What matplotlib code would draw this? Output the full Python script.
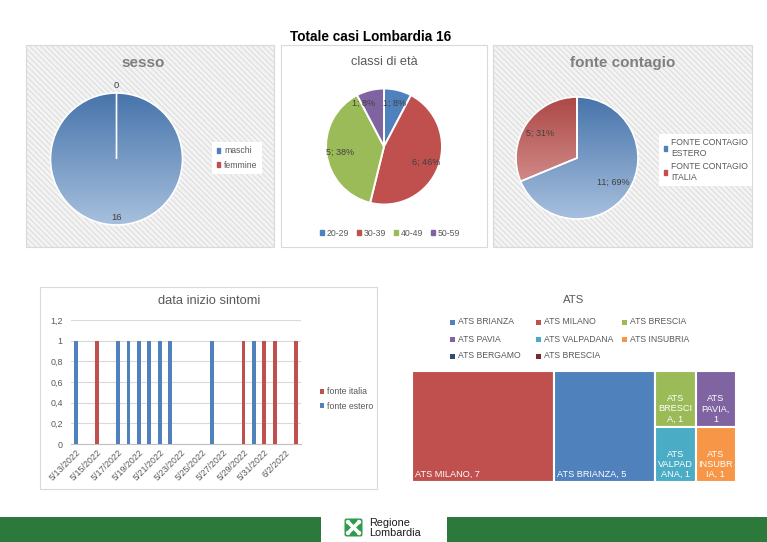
import numpy as np
import matplotlib
matplotlib.use('Agg')
import matplotlib.pyplot as plt
import matplotlib.colors as mcolors
from matplotlib.patches import Rectangle, FancyBboxPatch, Circle

plt.rcParams['font.family'] = ['Liberation Sans', 'DejaVu Sans']
plt.rcParams['hatch.linewidth'] = 0.6

# ---- data ----
chart_title = 'Totale casi Lombardia 16'

sex_labels = ['maschi', 'femmine']
sex_values = [16, 0]
sex_colors = ['#4F81BD', '#C0504D']

age_labels = ['20-29', '30-39', '40-49', '50-59']
age_values = [1, 6, 5, 1]
age_colors = ['#4F81BD', '#C0504D', '#9BBB59', '#8064A2']

source_labels = ['FONTE CONTAGIO\nESTERO', 'FONTE CONTAGIO\nITALIA']
source_values = [11, 5]
source_colors = ['#4F81BD', '#C0504D']

onset_dates = ['5/13/2022', '5/14/2022', '5/15/2022', '5/16/2022', '5/17/2022',
               '5/18/2022', '5/19/2022', '5/20/2022', '5/21/2022', '5/22/2022',
               '5/23/2022', '5/24/2022', '5/25/2022', '5/26/2022', '5/27/2022',
               '5/28/2022', '5/29/2022', '5/30/2022', '5/31/2022', '6/1/2022',
               '6/2/2022', '6/3/2022']
onset_estero = [1, 0, 0, 0, 1, 1, 1, 1, 1, 1, 0, 0, 0, 1, 0, 0, 0, 1, 0, 0, 0, 0]
onset_italia = [0, 0, 1, 0, 0, 0, 0, 0, 0, 0, 0, 0, 0, 0, 0, 0, 1, 0, 1, 1, 0, 1]
onset_yticks = [0, 0.2, 0.4, 0.6, 0.8, 1.0, 1.2]

ats_names = ['ATS BRIANZA', 'ATS MILANO', 'ATS BRESCIA', 'ATS PAVIA',
             'ATS VALPADANA', 'ATS INSUBRIA', 'ATS BERGAMO', 'ATS BRESCIA']
ats_values = [5, 7, 1, 1, 1, 1, 0, 0]
ats_colors = ['#4F81BD', '#C0504D', '#9BBB59', '#8064A2',
              '#4BACC6', '#F79646', '#2C4D75', '#772C2A']

# ---- layout helpers (pixel coords, origin top-left) ----
W, H = 767, 542
fig = plt.figure(figsize=(W / 100, H / 100), dpi=100)
fig.patch.set_facecolor('white')


def px_rect(x0, y0, x1, y1):
    return [x0 / W, 1 - y1 / H, (x1 - x0) / W, (y1 - y0) / H]


def px_pt(x, y):
    return (x / W, 1 - y / H)


bg = fig.add_axes([0, 0, 1, 1])
bg.set_xlim(0, W)
bg.set_ylim(H, 0)
bg.axis('off')

# panels
for (x0, y0, x1, y1, hatched) in [(26, 45, 274, 247, True), (281, 45, 487, 247, False),
                                  (493, 45, 752, 247, True), (40, 287, 377, 489, False)]:
    if hatched:
        bg.add_patch(Rectangle((x0, y0), x1 - x0, y1 - y0, facecolor='#f3f3f3',
                               edgecolor='#d8d8d8', hatch='\\' * 6, lw=0))
    bg.add_patch(Rectangle((x0, y0), x1 - x0, y1 - y0, facecolor='none',
                           edgecolor='#d9d9d9', lw=0.8))

bg.text(371, 37, chart_title, ha='center', va='center', fontsize=9.8,
        fontweight='bold', color='black')

# footer
green = '#2b7a3c'
bg.add_patch(Rectangle((0, 517), 321, 25, color=green, lw=0))
bg.add_patch(Rectangle((447, 517), 320, 25, color=green, lw=0))
bg.add_patch(FancyBboxPatch((345, 519), 17, 17, boxstyle='round,pad=0.5,rounding_size=2',
                            facecolor='#2f9a47', edgecolor='none'))
for (a, b, c, d) in [(348, 522, 359, 533), (359, 522, 348, 533)]:
    bg.plot([a, c], [b, d], color='white', lw=2.6, solid_capstyle='round')
for (cx, cy) in [(348, 522), (359, 522), (348, 533), (359, 533)]:
    bg.add_patch(Circle((cx, cy), 2.2, color='white', lw=0))
bg.text(369, 523, 'Regione', fontsize=7.8, color='#1a1a1a', va='center', ha='left')
bg.text(369, 533, 'Lombardia', fontsize=7.8, color='#1a1a1a', va='center', ha='left')


# ---- pie helpers ----
def pie_axes(cx, cy, r, pad=1.3):
    ax = fig.add_axes(px_rect(cx - r * pad, cy - r * pad, cx + r * pad, cy + r * pad))
    ax.axis('off')
    return ax


def finish_pie(ax, pad=1.3):
    ax.set_xlim(-pad, pad)
    ax.set_ylim(-pad, pad)
    ax.set_aspect('equal')


def gradient_fill(ax, wedges, colors):
    t = np.linspace(0, 1, 200)[:, None, None]
    for w, c in zip(wedges, colors):
        base = np.array(mcolors.to_rgb(c))
        top = base * 0.9
        bottom = base + (1 - base) * 0.5
        img = np.repeat(top * (1 - t) + bottom * t, 2, axis=1)
        im = ax.imshow(img, extent=(-1, 1, -1, 1), origin='upper', aspect='auto', zorder=0.5)
        im.set_clip_path(w)
        w.set_facecolor('none')


def pie_labels(ax, values, fmt, inner=0.75, outer=1.12, size=6.5, nudge=None):
    total = sum(values)
    cum = 0
    for k, v in enumerate(values):
        ang = np.deg2rad(90 - 360 * (cum + v / 2) / total)
        d = outer if v == 0 else inner
        dx = nudge[k] if nudge else 0
        ax.text(d * np.cos(ang) + dx, d * np.sin(ang), fmt(v, total), ha='center',
                va='center', fontsize=size, color='#404040')
        cum += v


def proxies(colors):
    return [Rectangle((0, 0), 1, 1, color=c) for c in colors]


# sesso
ax1 = pie_axes(116.5, 159, 66)
w1, _ = ax1.pie(sex_values, colors=sex_colors, startangle=90, counterclock=False,
                wedgeprops=dict(edgecolor='white', linewidth=1.2))
gradient_fill(ax1, w1, sex_colors)
pie_labels(ax1, sex_values, lambda v, t: f'{v}', inner=0.88, outer=1.11, size=6.8)
finish_pie(ax1)
bg.text(143, 63, 'sesso', ha='center', va='center', fontsize=11, fontweight='bold', color='#7f7f7f')
fig.legend(proxies(sex_colors), sex_labels, loc='center left', bbox_to_anchor=px_pt(208, 158),
           fontsize=6.2, frameon=True, facecolor='white', edgecolor='none', framealpha=1,
           fancybox=False, handlelength=0.45, handleheight=0.45, handletextpad=0.4,
           labelcolor='#595959', borderpad=0.5, labelspacing=0.6)

# classi di eta
ax2 = pie_axes(384, 146.5, 58)
ax2.pie(age_values, colors=age_colors, startangle=90, counterclock=False,
        wedgeprops=dict(edgecolor='white', linewidth=1.4))
pie_labels(ax2, age_values, lambda v, t: f'{v}; {round(100 * v / t)}%', inner=0.77,
           nudge=[0, 0, 0, -0.17])
finish_pie(ax2)
bg.text(384, 62, 'classi di età', ha='center', va='center', fontsize=9.2, color='#595959')
fig.legend(proxies(age_colors), age_labels, loc='center', bbox_to_anchor=px_pt(390, 233),
           ncol=4, fontsize=6.3, frameon=False, handlelength=0.45, handleheight=0.45,
           handletextpad=0.3, columnspacing=0.9, labelcolor='#595959')

# fonte contagio
ax3 = pie_axes(577, 158, 61)
w3, _ = ax3.pie(source_values, colors=source_colors, startangle=90, counterclock=False,
                wedgeprops=dict(edgecolor='white', linewidth=1.2))
gradient_fill(ax3, w3, source_colors)
pie_labels(ax3, source_values, lambda v, t: f'{v}; {round(100 * v / t)}%', inner=0.72)
finish_pie(ax3)
bg.text(623, 63, 'fonte contagio', ha='center', va='center', fontsize=11,
        fontweight='bold', color='#7f7f7f')
fig.legend(proxies(source_colors), source_labels, loc='center left',
           bbox_to_anchor=px_pt(655, 160), fontsize=6.2, frameon=True, facecolor='white',
           edgecolor='none', framealpha=1, fancybox=False, handlelength=0.45,
           handleheight=0.45, handletextpad=0.4, labelcolor='#595959', borderpad=0.5,
           labelspacing=0.5)

# ---- data inizio sintomi ----
ax4 = fig.add_axes(px_rect(71, 320, 301, 444))
x = np.arange(len(onset_dates))
ax4.bar(x, onset_estero, width=0.38, color='#4F81BD', zorder=3, label='fonte estero')
ax4.bar(x, onset_italia, width=0.38, bottom=onset_estero, color='#C0504D', zorder=3,
        label='fonte italia')
ax4.set_xlim(-0.5, len(onset_dates) - 0.5)
ax4.set_ylim(0, 1.2)
ax4.set_yticks(onset_yticks)
ax4.set_yticklabels([('%g' % v).replace('.', ',') for v in onset_yticks])
ax4.yaxis.grid(True, color='#d9d9d9', lw=0.8, zorder=0)
ax4.set_xticks(x[::2])
ax4.set_xticklabels(onset_dates[::2], rotation=45, ha='right', rotation_mode='anchor')
ax4.tick_params(axis='both', length=0, labelsize=6.4, labelcolor='#595959')
ax4.tick_params(axis='y', pad=6)
ax4.tick_params(axis='x', pad=3)
for s in ['top', 'right', 'left']:
    ax4.spines[s].set_visible(False)
ax4.spines['bottom'].set_color('#bfbfbf')
ax4.set_facecolor('none')
h4, l4 = ax4.get_legend_handles_labels()
fig.legend(h4[::-1], l4[::-1], loc='center left', bbox_to_anchor=px_pt(312, 399),
           fontsize=6.3, frameon=False, handlelength=0.45, handleheight=0.45,
           handletextpad=0.4, labelcolor='#595959', labelspacing=0.6)
bg.text(209, 301, 'data inizio sintomi', ha='center', va='center', fontsize=9.3, color='#595959')


# ---- ATS treemap ----
def squarify(values, x, y, w, h):
    total = sum(values)
    areas = [v * w * h / total for v in values]
    rects = []

    def worst(row, side):
        s = sum(row)
        return max(max(side * side * r / (s * s), s * s / (side * side * r)) for r in row)

    while areas:
        side = min(w, h)
        row = [areas[0]]
        i = 1
        while i < len(areas) and worst(row + [areas[i]], side) <= worst(row, side):
            row.append(areas[i])
            i += 1
        s = sum(row)
        if w >= h:
            cw = s / h
            yy = y
            for a in row:
                rects.append((x, yy, cw, a / cw))
                yy += a / cw
            x += cw
            w -= cw
        else:
            rh = s / w
            xx = x
            for a in row:
                rects.append((xx, y, a / rh, rh))
                xx += a / rh
            y += rh
            h -= rh
        areas = areas[i:]
    return rects


def wrap_label(text, width):
    lines, cur = [], ''
    for word in text.split(' '):
        cand = (cur + ' ' + word).strip()
        if len(cand) <= width:
            cur = cand
            continue
        if cur:
            lines.append(cur)
        while len(word) > width:
            lines.append(word[:width])
            word = word[width:]
        cur = word
    lines.append(cur)
    return lines


tx0, ty0, tx1, ty1 = 412, 371, 736, 482
ax5 = fig.add_axes(px_rect(tx0, ty0, tx1, ty1))
ax5.set_xlim(0, tx1 - tx0)
ax5.set_ylim(ty1 - ty0, 0)
ax5.axis('off')
order = sorted([i for i in range(len(ats_values)) if ats_values[i] > 0],
               key=lambda i: -ats_values[i])
rects = squarify([ats_values[i] for i in order], 0, 0, tx1 - tx0, ty1 - ty0)
for i, (rx, ry, rw, rh) in zip(order, rects):
    ax5.add_patch(Rectangle((rx, ry), rw, rh, facecolor=ats_colors[i], edgecolor='white', lw=1.5))
    label = f'{ats_names[i]}, {ats_values[i]}'
    lines = wrap_label(label, max(1, int(rw / 6.4)))
    if len(lines) > 1:
        ax5.text(rx + rw / 2, ry + rh - 3, '\n'.join(lines), ha='center', va='bottom',
                 multialignment='center', fontsize=6.6, color='white', linespacing=1.15)
    else:
        ax5.text(rx + 3, ry + rh - 3, label, ha='left', va='bottom', fontsize=6.6, color='white')

bg.text(574, 300, 'ATS', ha='center', va='center', fontsize=8.2, color='#595959')
for k, (name, c) in enumerate(zip(ats_names, ats_colors)):
    lx = 452 + 86 * (k % 3)
    ly = 322 + 17 * (k // 3)
    bg.add_patch(Rectangle((lx - 2.5, ly - 2.5), 5, 5, color=c, lw=0))
    bg.text(lx + 6, ly, name, ha='left', va='center', fontsize=6.2, color='#595959')

fig.savefig('out.png', dpi=100)
